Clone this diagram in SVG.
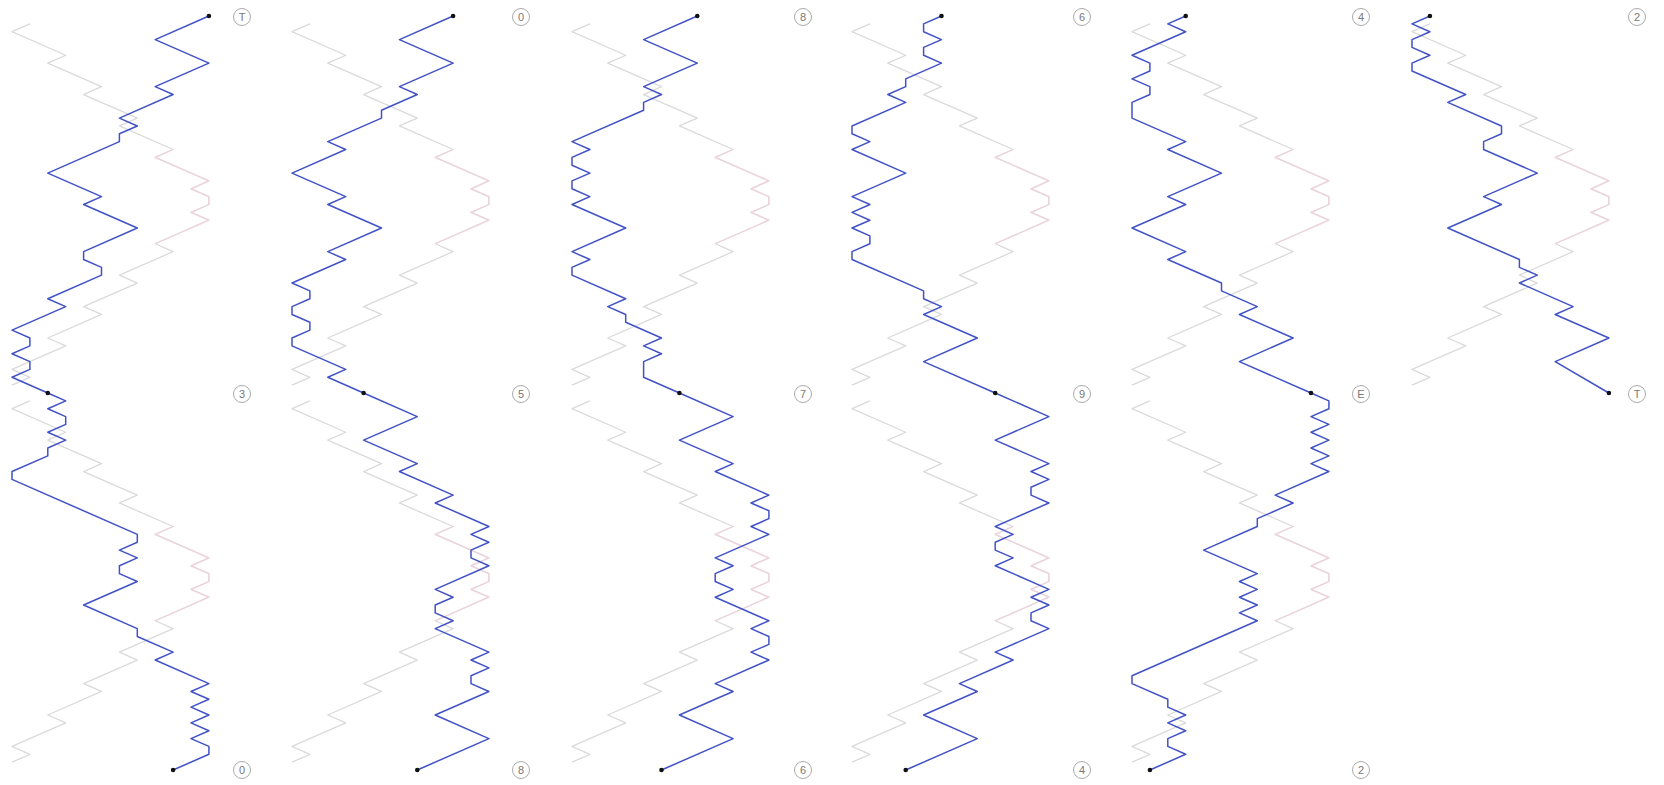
<svg xmlns="http://www.w3.org/2000/svg" xmlns:xlink="http://www.w3.org/1999/xlink" width="1664" height="785" viewBox="0 0 1664 785">
<style>
.walk{fill:none;stroke:#4152c6;stroke-width:1.5;stroke-linejoin:round;stroke-linecap:round;vector-effect:non-scaling-stroke}
.ghost{fill:none;stroke:#dadada;stroke-width:1.3;stroke-linejoin:round;vector-effect:non-scaling-stroke}
.ghostp{fill:none;stroke:#efd3de;stroke-width:1.3;stroke-linejoin:round;vector-effect:non-scaling-stroke}
.dot{fill:#111}
.lab circle{fill:#fff;stroke:#aaa;stroke-width:1}
.lab text{font-family:"Liberation Sans",Arial,sans-serif;font-size:11px;fill:#777;text-anchor:middle}
</style>
<defs>
<polyline id="g" class="ghost" points="1,1 0,2 3,5 2,6 5,9 4,10 7,13 6,14 9,17 8,18 11,21 10,22 11,23 11,24 10,25 11,26 8,29 9,30 6,33 7,34 4,37 5,38 2,41 3,42 0,45 1,46 0,47"/>
<polyline id="gp" class="ghostp" points="9,17 8,18 11,21 10,22 11,23 11,24 10,25 11,26 8,29"/>
</defs>
<rect width="1664" height="785" fill="#fff"/>
<g id="ghosts">
<g transform="translate(12,16) scale(17.9,7.854)"><use xlink:href="#g"/><use xlink:href="#gp"/></g>
<g transform="translate(12,393) scale(17.9,7.854)"><use xlink:href="#g"/><use xlink:href="#gp"/></g>
<g transform="translate(292,16) scale(17.9,7.854)"><use xlink:href="#g"/><use xlink:href="#gp"/></g>
<g transform="translate(292,393) scale(17.9,7.854)"><use xlink:href="#g"/><use xlink:href="#gp"/></g>
<g transform="translate(572,16) scale(17.9,7.854)"><use xlink:href="#g"/><use xlink:href="#gp"/></g>
<g transform="translate(572,393) scale(17.9,7.854)"><use xlink:href="#g"/><use xlink:href="#gp"/></g>
<g transform="translate(852,16) scale(17.9,7.854)"><use xlink:href="#g"/><use xlink:href="#gp"/></g>
<g transform="translate(852,393) scale(17.9,7.854)"><use xlink:href="#g"/><use xlink:href="#gp"/></g>
<g transform="translate(1132,16) scale(17.9,7.854)"><use xlink:href="#g"/><use xlink:href="#gp"/></g>
<g transform="translate(1132,393) scale(17.9,7.854)"><use xlink:href="#g"/><use xlink:href="#gp"/></g>
<g transform="translate(1412,16) scale(17.9,7.854)"><use xlink:href="#g"/><use xlink:href="#gp"/></g>
</g>
<g id="connectors">
<g id="c1t" transform="translate(12,16) scale(17.9,7.854)"><polyline class="walk" points="11,0 8,3 11,6 8,9 9,10 6,13 7,14 6,15 6,16 2,20 5,23 4,24 7,27 4,30 4,31 5,32 5,33 2,36 3,37 0,40 1,41 1,42 0,43 1,44 1,45 0,46 2,48"/></g>
<g id="c1b" transform="translate(12,393) scale(17.9,7.854)"><polyline class="walk" points="2,0 3,1 2,2 3,3 3,4 2,5 3,6 2,7 2,8 0,10 0,11 7,18 7,19 6,20 7,21 6,22 6,23 7,24 4,27 7,30 7,31 9,33 8,34 11,37 10,38 11,39 10,40 11,41 10,42 11,43 10,44 11,45 11,46 9,48"/></g>
<g id="c2t" transform="translate(292,16) scale(17.9,7.854)"><polyline class="walk" points="9,0 6,3 9,6 6,9 7,10 5,12 5,13 2,16 3,17 0,20 3,23 2,24 5,27 2,30 3,31 0,34 1,35 1,36 0,37 0,38 1,39 1,40 0,41 0,42 3,45 2,46 4,48"/></g>
<g id="c2b" transform="translate(292,393) scale(17.9,7.854)"><polyline class="walk" points="4,0 7,3 4,6 7,9 6,10 9,13 8,14 11,17 10,18 11,19 10,20 10,21 11,22 8,25 9,26 8,27 8,28 9,29 8,30 11,33 10,34 11,35 10,36 10,37 11,38 8,41 11,44 7,48"/></g>
<g id="c3t" transform="translate(572,16) scale(17.9,7.854)"><polyline class="walk" points="7,0 4,3 7,6 4,9 5,10 4,11 4,12 0,16 1,17 0,18 0,19 1,20 0,21 0,22 1,23 0,24 3,27 0,30 1,31 0,32 0,33 3,36 2,37 3,38 3,39 5,41 4,42 5,43 4,44 4,46 6,48"/></g>
<g id="c3b" transform="translate(572,393) scale(17.9,7.854)"><polyline class="walk" points="6,0 9,3 6,6 9,9 8,10 11,13 10,14 11,15 11,16 10,17 11,18 8,21 9,22 8,23 8,24 9,25 8,26 11,29 10,30 11,31 11,32 10,33 11,34 8,37 9,38 8,39 6,41 9,44 5,48"/></g>
<g id="c4t" transform="translate(852,16) scale(17.9,7.854)"><polyline class="walk" points="5,0 4,1 4,2 5,3 4,4 4,5 5,6 3,8 3,9 2,10 3,11 0,14 0,15 1,16 0,17 3,20 0,23 1,24 0,25 1,26 0,27 1,28 1,29 0,30 0,31 4,35 4,36 5,37 4,38 7,41 4,44 8,48"/></g>
<g id="c4b" transform="translate(852,393) scale(17.9,7.854)"><polyline class="walk" points="8,0 11,3 8,6 11,9 10,10 11,11 10,12 10,13 11,14 8,17 9,18 8,19 8,20 9,21 8,22 11,25 10,26 11,27 10,28 10,29 11,30 8,33 9,34 6,37 7,38 4,41 7,44 3,48"/></g>
<g id="c5t" transform="translate(1132,16) scale(17.9,7.854)"><polyline class="walk" points="3,0 2,1 3,2 0,5 1,6 1,7 0,8 1,9 1,10 0,11 0,13 3,16 2,17 5,20 2,23 3,24 0,27 3,30 2,31 5,34 5,35 7,37 6,38 9,41 6,44 10,48"/></g>
<g id="c5b" transform="translate(1132,393) scale(17.9,7.854)"><polyline class="walk" points="10,0 11,1 11,2 10,3 11,4 10,5 11,6 10,7 11,8 10,9 11,10 8,13 9,14 7,16 7,17 4,20 7,23 6,24 7,25 6,26 7,27 6,28 7,29 0,36 0,37 2,39 2,40 3,41 2,42 3,43 2,44 2,45 3,46 1,48"/></g>
<g id="c6t" transform="translate(1412,16) scale(17.9,7.854)"><polyline class="walk" points="1,0 0,1 1,2 0,3 0,4 1,5 0,6 0,7 3,10 2,11 5,14 5,15 4,16 4,17 7,20 4,23 5,24 2,27 6,31 6,32 7,33 6,34 9,37 8,38 11,41 8,44 11,48"/></g>
</g>
<g id="dots">
<circle class="dot" cx="208.9" cy="16" r="2.3"/><circle class="dot" cx="47.8" cy="393" r="2.3"/><circle class="dot" cx="173.1" cy="770" r="2.3"/>
<circle class="dot" cx="453.1" cy="16" r="2.3"/><circle class="dot" cx="363.6" cy="393" r="2.3"/><circle class="dot" cx="417.3" cy="770" r="2.3"/>
<circle class="dot" cx="697.3" cy="16" r="2.3"/><circle class="dot" cx="679.4" cy="393" r="2.3"/><circle class="dot" cx="661.5" cy="770" r="2.3"/>
<circle class="dot" cx="941.5" cy="16" r="2.3"/><circle class="dot" cx="995.2" cy="393" r="2.3"/><circle class="dot" cx="905.7" cy="770" r="2.3"/>
<circle class="dot" cx="1185.7" cy="16" r="2.3"/><circle class="dot" cx="1311" cy="393" r="2.3"/><circle class="dot" cx="1149.9" cy="770" r="2.3"/>
<circle class="dot" cx="1429.9" cy="16" r="2.3"/><circle class="dot" cx="1608.9" cy="393" r="2.3"/>
</g>
<g id="labels" class="lab">
<g id="l1a"><circle cx="242" cy="17" r="8.5"/><text x="242" y="21">T</text></g>
<g id="l1b"><circle cx="242" cy="394" r="8.5"/><text x="242" y="398">3</text></g>
<g id="l1c"><circle cx="242" cy="770" r="8.5"/><text x="242" y="774">0</text></g>
<g id="l2a"><circle cx="521" cy="17" r="8.5"/><text x="521" y="21">0</text></g>
<g id="l2b"><circle cx="521" cy="394" r="8.5"/><text x="521" y="398">5</text></g>
<g id="l2c"><circle cx="521" cy="770" r="8.5"/><text x="521" y="774">8</text></g>
<g id="l3a"><circle cx="803" cy="17" r="8.5"/><text x="803" y="21">8</text></g>
<g id="l3b"><circle cx="803" cy="394" r="8.5"/><text x="803" y="398">7</text></g>
<g id="l3c"><circle cx="803" cy="770" r="8.5"/><text x="803" y="774">6</text></g>
<g id="l4a"><circle cx="1082" cy="17" r="8.5"/><text x="1082" y="21">6</text></g>
<g id="l4b"><circle cx="1082" cy="394" r="8.5"/><text x="1082" y="398">9</text></g>
<g id="l4c"><circle cx="1082" cy="770" r="8.5"/><text x="1082" y="774">4</text></g>
<g id="l5a"><circle cx="1361" cy="17" r="8.5"/><text x="1361" y="21">4</text></g>
<g id="l5b"><circle cx="1361" cy="394" r="8.5"/><text x="1361" y="398">E</text></g>
<g id="l5c"><circle cx="1361" cy="770" r="8.5"/><text x="1361" y="774">2</text></g>
<g id="l6a"><circle cx="1637" cy="17" r="8.5"/><text x="1637" y="21">2</text></g>
<g id="l6b"><circle cx="1637" cy="394" r="8.5"/><text x="1637" y="398">T</text></g>
</g>
</svg>
